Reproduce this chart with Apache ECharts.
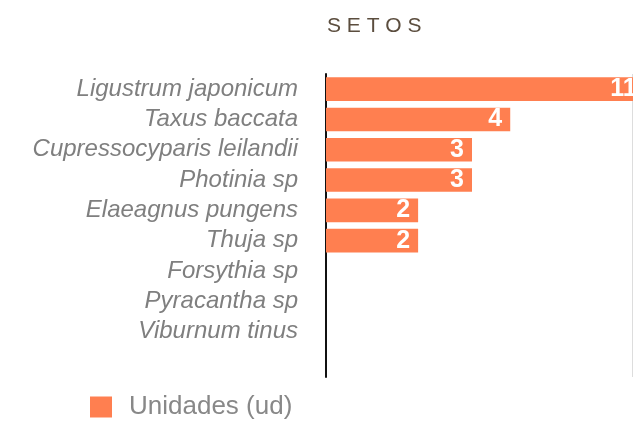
<!DOCTYPE html>
<html>
<head>
<meta charset="utf-8">
<script src="https://cdn.jsdelivr.net/npm/echarts@6/dist/echarts.min.js"></script>
<style>
  html, body { margin: 0; padding: 0; background: #fff; }
  #chart { width: 633px; height: 423px; }
</style>
</head>
<body>
<div id="chart"></div>
<script>
var species = [
  'Ligustrum japonicum',
  'Taxus baccata',
  'Cupressocyparis leilandii',
  'Photinia sp',
  'Elaeagnus pungens',
  'Thuja sp',
  'Forsythia sp',
  'Pyracantha sp',
  'Viburnum tinus',
  ''
];
// last ones have no bar in the picture
var unidades = [11, 4, 3, 3, 2, 2, null, null, null, null];

var myChart = echarts.init(document.getElementById('chart'));
myChart.setOption({
  animation: false,
  color: ['#ff7f50'],
  title: {
    text: 'S E T O S',
    left: 322,
    top: 11,
    textStyle: {
      color: '#5b4d3e',
      fontSize: 21,
      fontWeight: 'normal',
      fontFamily: 'Liberation Sans, Arial, sans-serif'
    }
  },
  legend: {
    left: 85,
    top: 389,
    itemWidth: 22,
    itemHeight: 21,
    icon: 'rect',
    textStyle: {
      color: '#888',
      fontSize: 26,
      fontFamily: 'Liberation Sans, Arial, sans-serif',
      padding: [0, 0, 0, 12]
    },
    data: ['Unidades (ud)']
  },
  grid: {
    left: 326,
    right: 1,
    top: 74,
    bottom: 46
  },
  xAxis: {
    type: 'log',
    logBase: 10,
    min: 1,
    max: 10,
    axisLine: { show: false },
    axisTick: { show: false },
    axisLabel: { show: false },
    splitLine: { show: true, lineStyle: { color: '#ddd', width: 1 } }
  },
  yAxis: {
    type: 'category',
    inverse: true,
    data: species,
    axisLine: { lineStyle: { color: '#111', width: 2 } },
    axisTick: { show: false },
    axisLabel: {
      interval: 0,
      margin: 28,
      color: '#7f7f7f',
      fontSize: 24,
      fontStyle: 'italic',
      fontFamily: 'Liberation Sans, Arial, sans-serif'
    }
  },
  series: [
    {
      name: 'Unidades (ud)',
      type: 'bar',
      clip: false,
      barCategoryGap: '22%',
      data: unidades,
      label: {
        show: true,
        position: 'insideRight',
        distance: 8,
        color: '#fff',
        fontSize: 25,
        fontWeight: 'bold',
        fontFamily: 'Liberation Sans, Arial, sans-serif'
      }
    }
  ]
});
</script>
</body>
</html>
